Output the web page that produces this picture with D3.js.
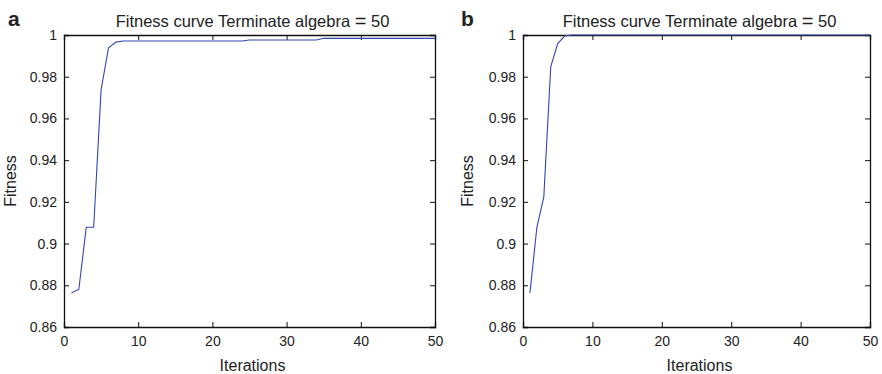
<!DOCTYPE html>
<html>
<head>
<meta charset="utf-8">
<script src="https://cdn.jsdelivr.net/npm/d3@7"></script>
<style>
html,body{margin:0;padding:0;background:#fff;}
svg text{font-family:"Liberation Sans",Arial,Helvetica,sans-serif;fill:#222;}
</style>
</head>
<body>
<svg id="chart" width="882" height="374"></svg>
<script>
const iterations = d3.range(1, 51);
// Panel a fitness values (iterations 1..50)
const fitnessA = [0.8763, 0.8781, 0.9078, 0.9078, 0.9737, 0.9939, 0.9966, 0.9971, 0.9971, 0.9971,
  0.9971, 0.9971, 0.9971, 0.9971, 0.9971, 0.9971, 0.9971, 0.9971, 0.9971, 0.9971,
  0.9971, 0.9971, 0.9971, 0.9971, 0.9976, 0.9976, 0.9976, 0.9976, 0.9976, 0.9976,
  0.9976, 0.9976, 0.9976, 0.9976, 0.9984, 0.9984, 0.9984, 0.9984, 0.9984, 0.9984,
  0.9984, 0.9984, 0.9984, 0.9984, 0.9984, 0.9984, 0.9984, 0.9984, 0.9984, 0.9984];
// Panel b fitness values (iterations 1..50)
const fitnessB = [0.8763, 0.9078, 0.9224, 0.9849, 0.9959, 0.9995, 1.0, 1.0, 1.0, 1.0,
  1.0, 1.0, 1.0, 1.0, 1.0, 1.0, 1.0, 1.0, 1.0, 1.0,
  1.0, 1.0, 1.0, 1.0, 1.0, 1.0, 1.0, 1.0, 1.0, 1.0,
  1.0, 1.0, 1.0, 1.0, 1.0, 1.0, 1.0, 1.0, 1.0, 1.0,
  1.0, 1.0, 1.0, 1.0, 1.0, 1.0, 1.0, 1.0, 1.0, 1.0];
const xTicks = [0, 10, 20, 30, 40, 50];
const yTicks = [0.86, 0.88, 0.9, 0.92, 0.94, 0.96, 0.98, 1];
const panelLetters = ["a", "b"];
const titleMain = "Fitness curve Terminate algebra";
const titleEq = "=";
const titleVal = "50";
const xLabel = "Iterations";
const yLabel = "Fitness";

const svg = d3.select("#chart");
const panels = [
  {letter: panelLetters[0], values: fitnessA, left: 64, right: 435, letterX: 8, ylabX: 10},
  {letter: panelLetters[1], values: fitnessB, left: 523, right: 870, letterX: 461, ylabX: 467}
];
const plotTop = 35, plotBottom = 327;

panels.forEach(p => {
  const x = d3.scaleLinear().domain([0, 50]).range([p.left, p.right]);
  const y = d3.scaleLinear().domain([0.86, 1]).range([plotBottom, plotTop]);
  const g = svg.append("g");
  const fmt = d => (d === 1 ? "1" : String(+d.toFixed(2)));

  const axB = g.append("g").attr("transform", `translate(0,${plotBottom})`)
    .call(d3.axisBottom(x).tickValues(xTicks).tickSize(-5).tickPadding(9).tickFormat(d3.format("d")));
  const axL = g.append("g").attr("transform", `translate(${p.left},0)`)
    .call(d3.axisLeft(y).tickValues(yTicks).tickSize(-5).tickPadding(7).tickFormat(fmt));
  const axT = g.append("g").attr("transform", `translate(0,${plotTop})`)
    .call(d3.axisTop(x).tickValues(xTicks).tickSize(-5).tickFormat(""));
  const axR = g.append("g").attr("transform", `translate(${p.right},0)`)
    .call(d3.axisRight(y).tickValues(yTicks).tickSize(-5).tickFormat(""));
  [axB, axL, axT, axR].forEach(a => {
    a.select(".domain").attr("stroke", "#111").attr("stroke-width", 1.3);
    a.selectAll(".tick line").attr("stroke", "#111");
    a.selectAll("text").attr("font-size", 14).attr("fill", "#222")
      .attr("font-family", "Liberation Sans, Arial, sans-serif");
  });

  const line = d3.line().x((d, i) => x(iterations[i])).y(d => y(d));
  g.append("path").datum(p.values).attr("d", line)
    .attr("fill", "none").attr("stroke", "#3347b0").attr("stroke-width", 1.1);

  const t = g.append("text").attr("x", (p.left + p.right) / 2 + 3).attr("y", 27)
    .attr("text-anchor", "middle").attr("font-size", 16.5);
  t.append("tspan").text(titleMain + " ");
  t.append("tspan").attr("font-size", 20).attr("dy", 1).text(titleEq);
  t.append("tspan").attr("dy", -1).text(" " + titleVal);
  g.append("text").attr("x", p.letterX).attr("y", 26)
    .attr("font-size", 21).attr("font-weight", "bold").attr("fill", "#111").text(p.letter);
  g.append("text").attr("x", (p.left + p.right) / 2 + 3).attr("y", 371)
    .attr("text-anchor", "middle").attr("font-size", 16).text(xLabel);
  g.append("text").attr("transform", `translate(${p.ylabX},${(plotTop + plotBottom) / 2}) rotate(-90)`)
    .attr("text-anchor", "middle").attr("dy", "0.35em").attr("font-size", 16).text(yLabel);
});
</script>
</body>
</html>
